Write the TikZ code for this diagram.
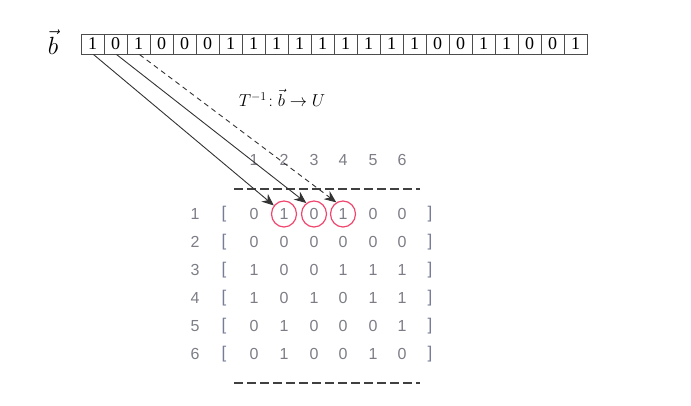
\documentclass[tikz,border=0pt]{standalone}
\usepackage{fontspec}
\setmainfont{Liberation Serif}
\newfontfamily\matfont{Liberation Sans}
\usetikzlibrary{arrows.meta,shapes.geometric}
\definecolor{matgray}{RGB}{125,125,135}
\definecolor{brgray}{RGB}{120,125,150}
\definecolor{circred}{RGB}{240,70,110}
\tikzset{
  bitcell/.style={draw=black!70, line width=1pt, minimum width=23pt, minimum height=20pt, inner sep=0pt, font=\fontsize{18}{18}\selectfont},
  matnum/.style={text=matgray, inner sep=0pt, font=\matfont\fontsize{16}{16}\selectfont},
  brk/.style={text=brgray, inner sep=0pt, font=\matfont\fontsize{17}{17}\selectfont},
  mark circ/.style={draw=circred, line width=1.2pt, ellipse, minimum width=25pt, minimum height=26pt, inner sep=0pt},
  maparrow/.style={draw=black!80, line width=0.9pt, -{Stealth[length=12pt,width=10pt]}},
  sepline/.style={draw=black!75, line width=1.1pt, dash pattern=on 9pt off 4pt},
}
\begin{document}
\begin{tikzpicture}[x=1pt,y=-1pt]
\useasboundingbox (0,0) rectangle (691,405);
% vector b
\node[inner sep=0pt, font=\fontsize{24}{24}\selectfont] (bvec) at (53,42) {$\vec{b}$};
% bit cells
\foreach \b [count=\i] in {1,0,1,0,0,0,1,1,1,1,1,1,1,1,1,0,0,1,1,0,0,1} {
  \node[bitcell] (c\i) at ({81+11.5+23*(\i-1)},44) {\b};
}
% map label
\node[inner sep=0pt, font=\fontsize{17}{17}\selectfont] (maplabel) at (282,98) {$T^{-1}\!:\vec{b}\rightarrow U$};
% column headers
\foreach \x [count=\j] in {254,284,314,343,373,402} {
  \node[matnum] (h\j) at (\x,160) {\j};
}
% separators
\coordinate (s1a) at (234,189); \coordinate (s1b) at (420,189);
\coordinate (s2a) at (234,383); \coordinate (s2b) at (420,383);
\draw[sepline] (s1a) -- (s1b);
\draw[sepline, line width=1.4pt] (s2a) -- (s2b);
% matrix rows
\foreach \row [count=\r] in {{0,1,0,1,0,0},{0,0,0,0,0,0},{1,0,0,1,1,1},{1,0,1,0,1,1},{0,1,0,0,0,1},{0,1,0,0,1,0}} {
  \pgfmathsetmacro{\yy}{214+28*(\r-1)}
  \node[matnum] (r\r) at (195,\yy) {\r};
  \node[brk] (lb\r) at (224,\yy) {[};
  \node[brk] (rb\r) at (430,\yy) {]};
  \foreach \v [count=\c] in \row {
    \pgfmathsetmacro{\xx}{{254,284,314,343,373,402}[\c-1]}
    \node[matnum] (m\r-\c) at (\xx,\yy) {\v};
  }
}
% circles
\node[mark circ] (e1) at (m1-2) {};
\node[mark circ] (e2) at (m1-3) {};
\node[mark circ] (e3) at (m1-4) {};
% arrows
\draw[maparrow] ([xshift=1pt]c1.south) -- (e1.140);
\draw[maparrow] ([xshift=1pt]c2.south) -- (e2.125);
\draw[maparrow, dash pattern=on 5pt off 4pt] ([xshift=1pt]c3.south) -- (e3.120);
\end{tikzpicture}
\end{document}
